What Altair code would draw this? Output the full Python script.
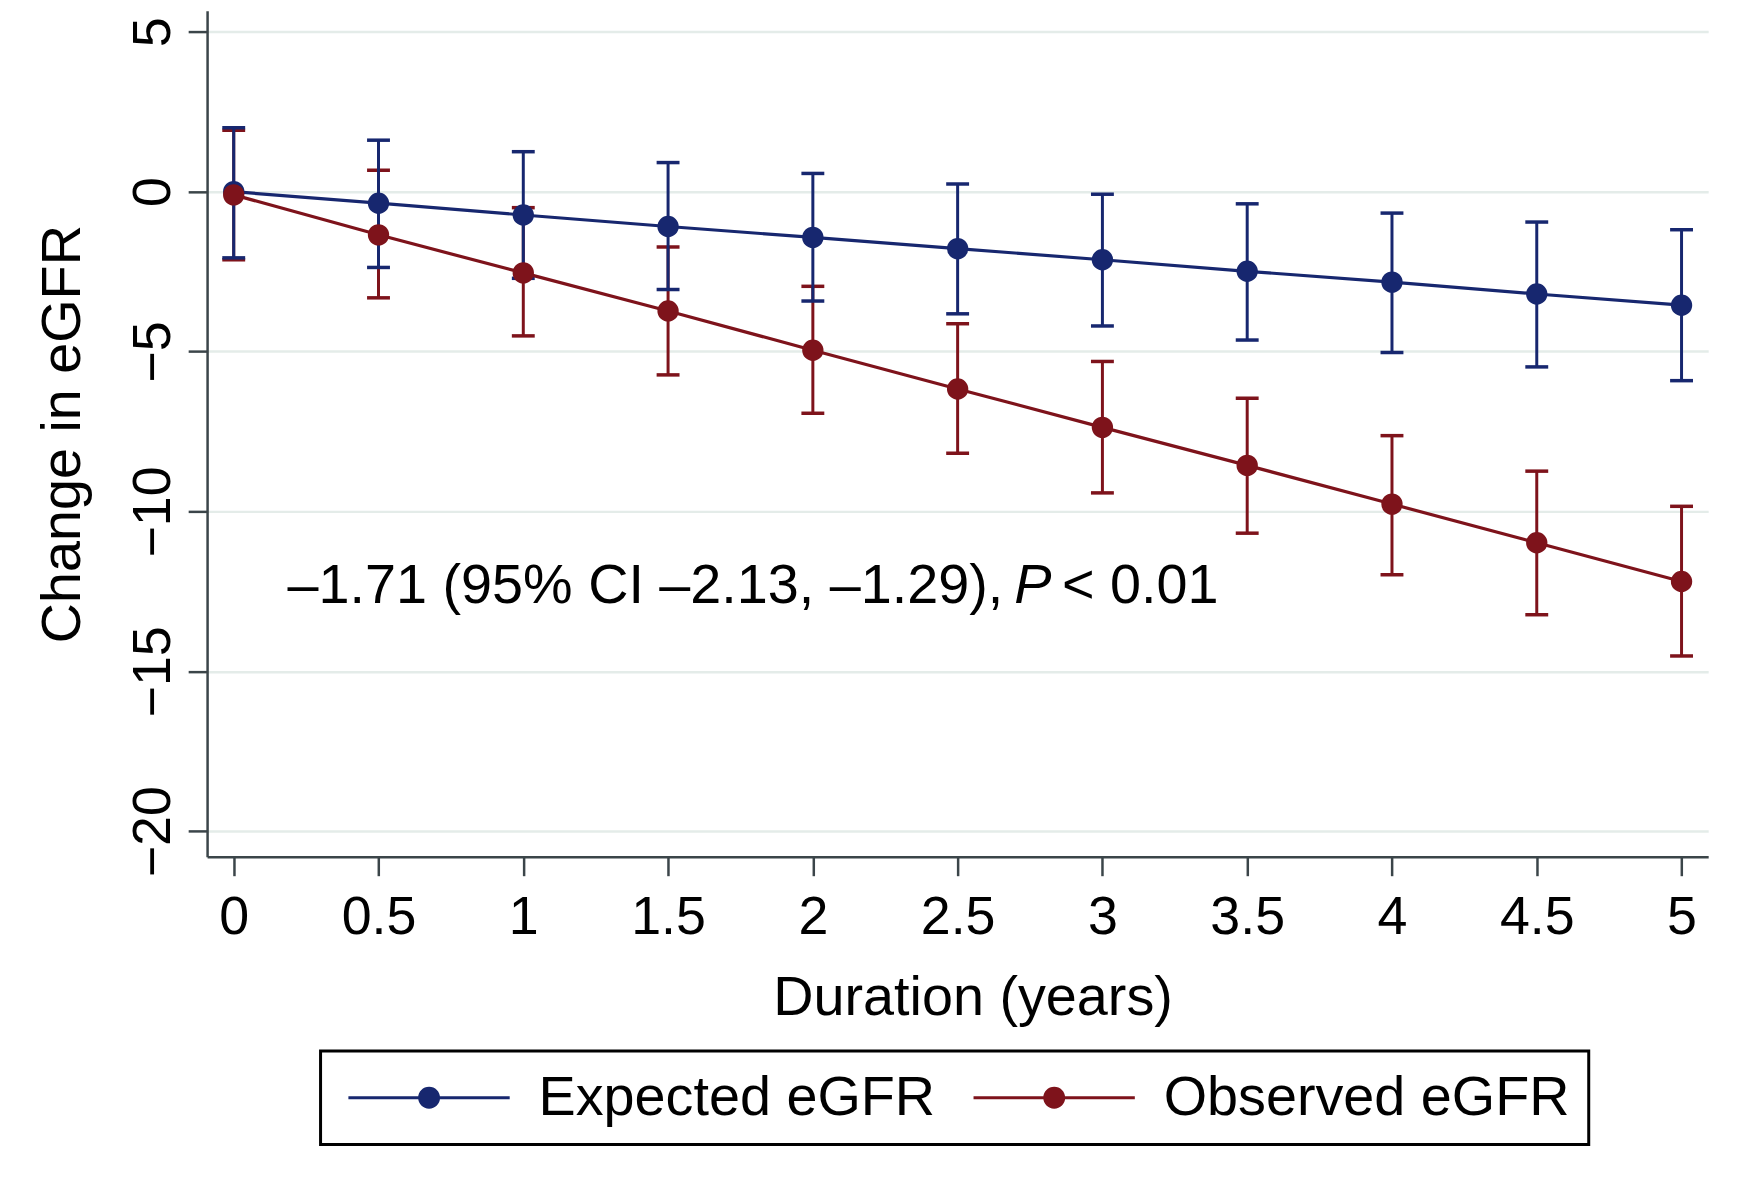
import altair as alt
import pandas as pd

# ---- data ----
years = [0, 0.5, 1, 1.5, 2, 2.5, 3, 3.5, 4, 4.5, 5]

exp_mean = [0.00, -0.36, -0.73, -1.09, -1.43, -1.78, -2.13, -2.49, -2.83, -3.20, -3.55]
exp_lo = [-2.07, -2.37, -2.71, -3.06, -3.42, -3.82, -4.20, -4.64, -5.03, -5.48, -5.91]
exp_hi = [2.00, 1.61, 1.25, 0.91, 0.57, 0.24, -0.08, -0.38, -0.67, -0.95, -1.19]

obs_mean = [-0.10, -1.35, -2.54, -3.73, -4.96, -6.17, -7.37, -8.56, -9.77, -10.98, -12.19]
obs_lo = [-2.13, -3.32, -4.51, -5.73, -6.93, -8.18, -9.42, -10.68, -11.98, -13.23, -14.52]
obs_hi = [1.92, 0.67, -0.50, -1.73, -2.96, -4.13, -5.31, -6.46, -7.63, -8.74, -9.84]

series_names = ["Expected eGFR", "Observed eGFR"]
series_colors = ["#17276f", "#7e131b"]

annot_parts = ["\u20131.71 (95% CI \u20132.13, \u20131.29),", "P", "< 0.01"]

x_ticks = [0, 0.5, 1, 1.5, 2, 2.5, 3, 3.5, 4, 4.5, 5]
y_ticks = [-20, -15, -10, -5, 0, 5]

x_title = "Duration (years)"
y_title = "Change in eGFR"

# ---- table ----
rows = []
for name, means, los, his in [
    (series_names[0], exp_mean, exp_lo, exp_hi),
    (series_names[1], obs_mean, obs_lo, obs_hi),
]:
    for yr, m, lo, hi in zip(years, means, los, his):
        rows.append({"series": name, "year": yr, "mean": m, "lo": lo, "hi": hi})
df = pd.DataFrame(rows)

FONT = "Liberation Sans"
AX = "#3b4549"

xs = alt.Scale(domain=[-0.092, 5.092], nice=False, zero=False)
ys = alt.Scale(domain=[-20.8, 5.66], nice=False, zero=False)

x_axis = alt.Axis(
    values=x_ticks, format="~g", title=x_title, grid=False,
    domainColor=AX, domainWidth=2.5, tickColor=AX, tickWidth=2.5, tickSize=19,
    labelFont=FONT, labelFontSize=54, labelColor="black", labelBaseline="alphabetic",
    labelPadding=58, labelFlush=False, labelOverlap=False,
    titleFont=FONT, titleFontSize=56, titleFontWeight="normal", titleColor="black",
    titleX=769, titleY=158, titleAlign="center", titleBaseline="alphabetic",
)
y_axis = alt.Axis(
    values=y_ticks, title=y_title, grid=True, gridColor="#e4ece9", gridWidth=2.5,
    domainColor=AX, domainWidth=2.5, tickColor=AX, tickWidth=2.5, tickSize=19,
    labelFont=FONT, labelFontSize=54, labelColor="black", labelAngle=270,
    labelAlign="center", labelBaseline="alphabetic", labelPadding=19,
    labelFlush=False, labelOverlap=False,
    titleFont=FONT, titleFontSize=56, titleFontWeight="normal", titleColor="black",
    titleAngle=270, titleAlign="center", titleBaseline="alphabetic",
    titleX=-128, titleY=425,
)

LEG_PATH = ("M-1.73,-0.136H13.0V0.136H-1.73Z "
            "M6.64,0A1,1 0 1,1 4.64,0A1,1 0 1,1 6.64,0Z")
color_legend = alt.Color(
    "series:N",
    scale=alt.Scale(domain=series_names, range=series_colors),
    legend=alt.Legend(
        title=None, orient="none", legendX=114, legendY=1045, direction="horizontal",
        symbolType=LEG_PATH, symbolSize=484, symbolStrokeWidth=0, symbolOpacity=1,
        labelFont=FONT, labelFontSize=56, labelColor="black", labelOffset=144, labelLimit=0,
        columnPadding=29, padding=19, strokeColor="black", fillColor="white",
    ),
)

X = lambda f: alt.X(f, type="quantitative", scale=xs, axis=x_axis)
Y = lambda f: alt.Y(f, type="quantitative", scale=ys, axis=y_axis)

layers = []
# error bars, one series at a time (observed first, expected on top)
for i in [1, 0]:
    sb = alt.Chart(df).transform_filter(alt.datum.series == series_names[i])
    col = series_colors[i]
    layers.append(sb.mark_rule(strokeWidth=3, color=col).encode(x=X("year"), y=Y("lo"), y2="hi:Q"))
    layers.append(sb.mark_tick(orient="horizontal", size=23, thickness=3.5, opacity=1, color=col)
                  .encode(x=X("year"), y=Y("lo")))
    layers.append(sb.mark_tick(orient="horizontal", size=23, thickness=3.5, opacity=1, color=col)
                  .encode(x=X("year"), y=Y("hi")))
for i in [0, 1]:
    sb = alt.Chart(df).transform_filter(alt.datum.series == series_names[i])
    layers.append(sb.mark_line(strokeWidth=3.2, color=series_colors[i]).encode(x=X("year"), y=Y("mean")))

points = alt.Chart(df).mark_point(filled=True, size=460, opacity=1, shape="circle").encode(
    x=X("year"), y=Y("mean"), color=color_legend,
)
layers.append(points)


def annot(i, dx, style):
    return alt.Chart(pd.DataFrame({"t": [annot_parts[i]]})).mark_text(
        align="left", baseline="alphabetic", fontSize=56, font=FONT, color="black",
        fontStyle=style, dx=dx,
    ).encode(
        x=alt.X(datum=0.186, type="quantitative", scale=xs, axis=x_axis),
        y=alt.Y(datum=-12.85, type="quantitative", scale=ys, axis=y_axis),
        text="t:N",
    )

layers += [annot(0, 0, "normal"), annot(1, 730, "italic"), annot(2, 778, "normal")]

chart = alt.layer(*layers).properties(
    width=1508, height=850,
    autosize=alt.AutoSizeParams(type="none"),
    padding={"left": 200, "top": 0, "right": 40, "bottom": 320},
    background="white",
).configure_view(strokeWidth=0).configure_legend(strokeWidth=3)

chart.save("out.html", embed_options={"renderer": "svg", "actions": False})
